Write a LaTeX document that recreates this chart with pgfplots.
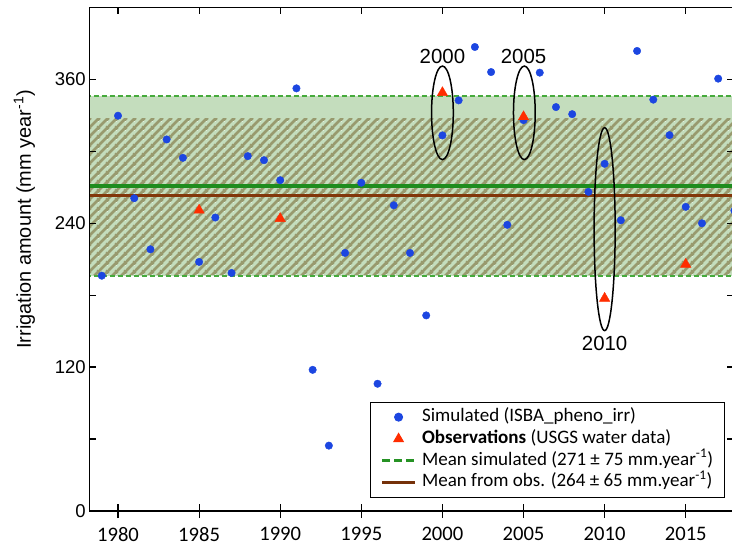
\documentclass[border=0pt]{standalone}
\usepackage{fontspec}
\setmainfont{Liberation Sans}
\newfontfamily\calibri{Carlito}
\usepackage{pgfplots}
\usepackage{pgfplotstable}
\pgfplotsset{compat=1.18}
\usetikzlibrary{patterns}

\definecolor{simblue}{RGB}{28,70,225}
\definecolor{obsred}{RGB}{255,45,0}
\definecolor{bandgreen}{RGB}{70,150,50}
\definecolor{dashgreen}{RGB}{70,170,60}
\definecolor{meangreen}{RGB}{30,140,30}
\definecolor{meanbrown}{RGB}{130,55,10}
\definecolor{hatchc}{RGB}{152,154,110}

\pgfdeclarepatterninherentlycolored{myhatch}{\pgfpointorigin}{\pgfqpoint{9bp}{9bp}}{\pgfqpoint{9bp}{9bp}}{
  \pgfsetcolor{hatchc}
  \pgfsetlinewidth{2.8bp}
  \pgfpathmoveto{\pgfqpoint{-1bp}{-1bp}}
  \pgfpathlineto{\pgfqpoint{10bp}{10bp}}
  \pgfpathmoveto{\pgfqpoint{-1bp}{8bp}}
  \pgfpathlineto{\pgfqpoint{1bp}{10bp}}
  \pgfpathmoveto{\pgfqpoint{8bp}{-1bp}}
  \pgfpathlineto{\pgfqpoint{10bp}{1bp}}
  \pgfusepath{stroke}
}

\pgfplotsset{
  mylineleg/.style={legend image code/.code={\draw[##1] (0bp,0bp) -- (33bp,0bp);}},
  mymarkleg/.style={legend image code/.code={\draw[##1] plot coordinates {(16.5bp,0bp)};}},
}

\pgfplotstableread{
year val
1979 196.2
1980 329.6
1981 260.8
1982 218.2
1983 309.8
1984 294.5
1985 207.7
1986 244.7
1987 198.5
1988 295.9
1989 292.5
1990 275.8
1991 352.4
1992 117.7
1993 54.5
1994 215.2
1995 273.7
1996 106.1
1997 254.9
1998 215.2
1999 163.1
2000 313.2
2001 342.4
2002 386.9
2003 366.0
2004 238.6
2005 325.9
2006 365.5
2007 336.8
2008 330.9
2009 266.1
2010 289.5
2011 242.4
2012 383.6
2013 343.0
2014 313.4
2015 253.6
2016 239.9
2017 360.5
2018 250.5
}\simdata

\pgfplotstableread{
year val
1985 250.8
1990 243.8
2000 348.8
2005 328.7
2010 177.3
2015 205.7
}\obsdata

\begin{document}
\begin{tikzpicture}
\begin{axis}[
  scale only axis, width=645.1bp, height=503.7bp,
  xmin=1978.23, xmax=2018, ymin=0, ymax=420,
  axis on top,
  axis line style={line width=1.2bp},
  every tick/.style={black, line width=1.2bp},
  major tick length=7bp, minor tick length=7bp,
  tick align=inside,
  xtick={1980,1985,...,2015}, xtick pos=both,
  ytick={0,120,240,360}, minor ytick={60,180,300}, ytick pos=both,
  extra x ticks={1980,1985,...,2015}, extra x tick labels={},
  extra x tick style={tick align=outside, xtick pos=left},
  /pgf/number format/assume math mode=true,
  /pgf/number format/set thousands separator={},
  x tick label style={font=\calibri\fontsize{20.7}{24}\selectfont, yshift=-13bp},
  y tick label style={font=\fontsize{18.6}{22}\selectfont},
  ylabel={Irrigation amount (mm year\textsuperscript{-1})},
  ylabel style={at={(rel axis cs:-0.1008,0.579)}, anchor=center, rotate=0, font=\fontsize{20}{24}\selectfont},
  legend style={at={(0.9855,0.0264)}, anchor=south east, draw=black, line width=1bp, fill=white,
    font=\calibri\fontsize{19.1}{23}\selectfont, inner xsep=10bp, inner ysep=4bp,
    nodes={inner sep=1.5bp, text height=13.5bp, text depth=4.8bp},
    row sep=0.5bp, column sep=4bp},
  legend cell align=left,
]
\coordinate (O) at (rel axis cs:0,0);
% simulated band
\addplot[forget plot, draw=none, fill=bandgreen, fill opacity=0.32]
  coordinates {(1978,196) (2019,196) (2019,346) (1978,346)} -- cycle;
% observed hatched band
\addplot[forget plot, draw=none, fill=none, pattern=myhatch]
  coordinates {(1978,197) (2019,197) (2019,327) (1978,327)} -- cycle;
% band edges
\addplot[forget plot, dashgreen, line width=1.3bp, dash pattern=on 5bp off 3bp] coordinates {(1978,196) (2019,196)};
\addplot[forget plot, dashgreen, line width=1.3bp, dash pattern=on 5bp off 3bp] coordinates {(1978,346) (2019,346)};
% simulated points
\addplot[forget plot, only marks, mark=*, mark size=3.75bp, simblue] table[x=year,y=val] {\simdata};
% means
\addplot[forget plot, meangreen, line width=3.5bp] coordinates {(1978,271) (2019,271)};
\addplot[forget plot, meanbrown, line width=3.5bp] coordinates {(1978,263) (2019,263)};
% observations
\addplot[forget plot, only marks, mark=triangle*, mark size=6bp, obsred] table[x=year,y=val] {\obsdata};
% annotations
\draw[line width=1.5bp] (axis cs:2000,332) ellipse [x radius=0.67, y radius=39];
\draw[line width=1.5bp] (axis cs:2005.05,332) ellipse [x radius=0.67, y radius=39];
\draw[line width=1.5bp] (axis cs:2010,235) ellipse [x radius=0.65, y radius=84.6];
\node[font=\fontsize{20.5}{24}\selectfont] at (axis cs:2000,379.4) {2000};
\node[font=\fontsize{20.5}{24}\selectfont] at (axis cs:2005,379.4) {2005};
\node[font=\fontsize{20.5}{24}\selectfont] at (axis cs:2010,139.6) {2010};
% legend
\addlegendimage{mymarkleg, only marks, mark=*, mark size=4bp, simblue}
\addlegendentry{Simulated (ISBA\_pheno\_irr)}
\addlegendimage{mymarkleg, only marks, mark=triangle*, mark size=5.5bp, obsred}
\addlegendentry{\textbf{Observations} (USGS water data)}
\addlegendimage{mylineleg, meangreen!80!dashgreen, line width=3bp, dash pattern=on 8bp off 4bp}
\addlegendentry{Mean simulated (271 ± 75 mm.year\textsuperscript{-1})}
\addlegendimage{mylineleg, meanbrown!90!black, line width=3bp}
\addlegendentry{Mean from obs. (264 ± 65 mm.year\textsuperscript{-1})}
\end{axis}
\pgfresetboundingbox
\useasboundingbox ([shift={(-89.3bp,-39bp)}]O) rectangle ([shift={(642.7bp,511bp)}]O);
\end{tikzpicture}
\end{document}
